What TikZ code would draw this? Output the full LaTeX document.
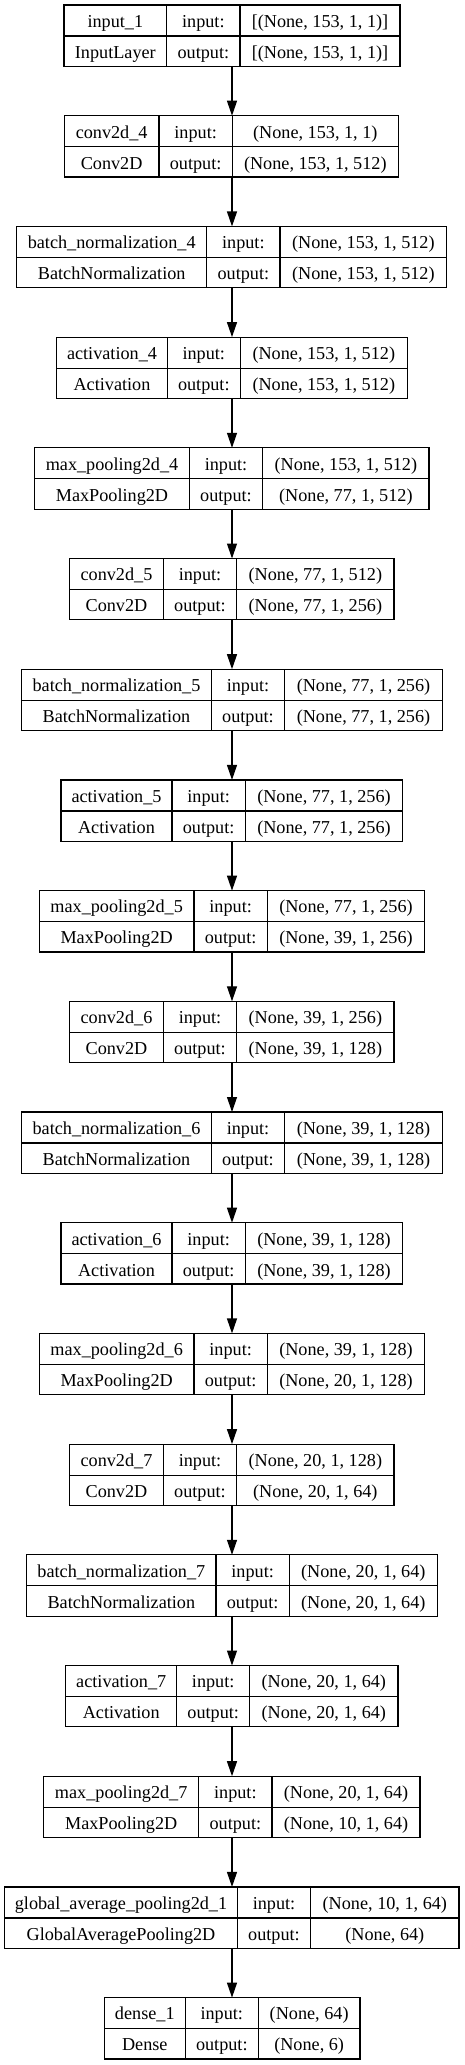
\documentclass[tikz,border=0pt]{standalone}
\usepackage{fontspec}
\setmainfont{Liberation Serif}
\usetikzlibrary{arrows.meta}
\tikzset{
  layerbox/.style={draw=black, line width=1.2pt, inner sep=0pt, outer sep=0pt, fill=none},
  cellline/.style={draw=black, line width=1.2pt},
  celltext/.style={anchor=base, inner sep=0pt, font=\fontsize{18.2pt}{22pt}\selectfont},
  arr/.style={draw=black, line width=1.2pt, -{Triangle[length=15pt,width=10pt]}}
}
% #1 index, #2 left, #3 divider 1, #4 divider 2, #5 right, #6 name, #7 class, #8 input, #9 output
\newcommand\nnlayer[9]{%
  \pgfmathsetmacro\ltop{-(5+110.7*(#1-1))}%
  \pgfmathsetmacro\lmid{\ltop-31}%
  \pgfmathsetmacro\lbot{\ltop-61.3}%
  \pgfmathsetmacro\lbaseA{\ltop-22.3}%
  \pgfmathsetmacro\lbaseB{\ltop-53.3}%
  \node[layerbox, minimum width={(#5-#2)*1pt}, minimum height=61.3pt, anchor=north west] (L#1) at (#2,\ltop) {};
  \draw[cellline] (#3,\ltop) -- (#3,\lbot);
  \draw[cellline] (#4,\ltop) -- (#4,\lbot);
  \draw[cellline] (#2,\lmid) -- (#5,\lmid);
  \node[celltext] (L#1name) at ({(#2+#3)/2},\lbaseA) {#6};
  \node[celltext] (L#1class) at ({(#2+#3)/2},\lbaseB) {#7};
  \node[celltext] (L#1inl) at ({(#3+#4)/2},\lbaseA) {input:};
  \node[celltext] (L#1outl) at ({(#3+#4)/2},\lbaseB) {output:};
  \node[celltext] (L#1in) at ({(#4+#5)/2},\lbaseA) {#8};
  \node[celltext] (L#1out) at ({(#4+#5)/2},\lbaseB) {#9};
}
\begin{document}
\begin{tikzpicture}[x=1pt,y=1pt]
\useasboundingbox (0,0) rectangle (464,-2065);
\coordinate (ax) at (232,0);
\nnlayer{1}{64}{166.7}{240}{400}{input\_1}{InputLayer}{[(None, 153, 1, 1)]}{[(None, 153, 1, 1)]}
\nnlayer{2}{64.3}{159}{232.3}{398.3}{conv2d\_4}{Conv2D}{(None, 153, 1, 1)}{(None, 153, 1, 512)}
\nnlayer{3}{16.7}{206.7}{280}{446.7}{batch\_normalization\_4}{BatchNormalization}{(None, 153, 1, 512)}{(None, 153, 1, 512)}
\nnlayer{4}{56.7}{167.3}{240.3}{407.3}{activation\_4}{Activation}{(None, 153, 1, 512)}{(None, 153, 1, 512)}
\nnlayer{5}{34.7}{189.3}{262.7}{429}{max\_pooling2d\_4}{MaxPooling2D}{(None, 153, 1, 512)}{(None, 77, 1, 512)}
\nnlayer{6}{69.7}{163.3}{236.7}{394}{conv2d\_5}{Conv2D}{(None, 77, 1, 512)}{(None, 77, 1, 256)}
\nnlayer{7}{21.7}{211.3}{284.7}{442.3}{batch\_normalization\_5}{BatchNormalization}{(None, 77, 1, 256)}{(None, 77, 1, 256)}
\nnlayer{8}{61}{172}{245.3}{402.7}{activation\_5}{Activation}{(None, 77, 1, 256)}{(None, 77, 1, 256)}
\nnlayer{9}{39.3}{194}{267.3}{424.7}{max\_pooling2d\_5}{MaxPooling2D}{(None, 77, 1, 256)}{(None, 39, 1, 256)}
\nnlayer{10}{69.7}{163.3}{236.7}{394}{conv2d\_6}{Conv2D}{(None, 39, 1, 256)}{(None, 39, 1, 128)}
\nnlayer{11}{21.7}{211.3}{284.7}{442.3}{batch\_normalization\_6}{BatchNormalization}{(None, 39, 1, 128)}{(None, 39, 1, 128)}
\nnlayer{12}{61}{172}{245.3}{402.7}{activation\_6}{Activation}{(None, 39, 1, 128)}{(None, 39, 1, 128)}
\nnlayer{13}{39.3}{194}{267.3}{424.7}{max\_pooling2d\_6}{MaxPooling2D}{(None, 39, 1, 128)}{(None, 20, 1, 128)}
\nnlayer{14}{69.7}{163.3}{236.7}{394}{conv2d\_7}{Conv2D}{(None, 20, 1, 128)}{(None, 20, 1, 64)}
\nnlayer{15}{26.7}{216}{289.3}{437.3}{batch\_normalization\_7}{BatchNormalization}{(None, 20, 1, 64)}{(None, 20, 1, 64)}
\nnlayer{16}{65.7}{176.7}{249.7}{398}{activation\_7}{Activation}{(None, 20, 1, 64)}{(None, 20, 1, 64)}
\nnlayer{17}{43.7}{198.7}{272}{420}{max\_pooling2d\_7}{MaxPooling2D}{(None, 20, 1, 64)}{(None, 10, 1, 64)}
\nnlayer{18}{4.7}{237.3}{310.7}{459}{global\_average\_pooling2d\_1}{GlobalAveragePooling2D}{(None, 10, 1, 64)}{(None, 64)}
\nnlayer{19}{104.3}{185.3}{258.3}{360}{dense\_1}{Dense}{(None, 64)}{(None, 6)}
\foreach \a [evaluate=\a as \b using int(\a+1)] in {1,...,18}{
  \draw[arr] (L\a.south -| ax) -- (L\b.north -| ax);
}
\end{tikzpicture}
\end{document}
